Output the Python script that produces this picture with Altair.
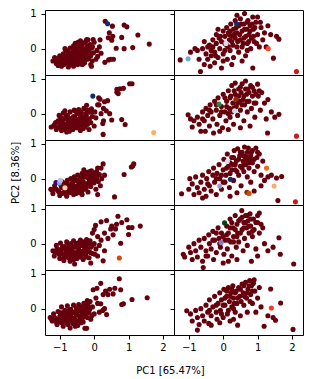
import altair as alt
import pandas as pd

BASE_COLOR = "#67000d"
X_TITLE = "PC1 [65.47%]"
Y_TITLE = "PC2 [8.36%]"
X_TICKS = [-1, 0, 1, 2]
Y_TICKS = [0, 1]

# panel order: row by row, left then right
P1 = [(-1.2,-0.35),(-1.15,-0.25),(-1.1,-0.42),(-1.05,-0.3),(-1.0,-0.2),(-1.0,-0.38),(-0.95,-0.5),(-0.95,-0.28),(-0.9,-0.15),(-0.9,-0.35),(-0.88,-0.45),(-0.85,-0.22),(-0.82,-0.05),(-0.8,-0.3),(-0.8,-0.4),(-0.78,-0.18),(-0.75,-0.52),(-0.75,-0.1),(-0.72,-0.28),(-0.7,-0.35),(-0.7,0.02),(-0.68,-0.2),(-0.65,-0.45),(-0.65,-0.12),(-0.62,-0.3),(-0.6,0.08),(-0.6,-0.05),(-0.58,-0.22),(-0.55,-0.38),(-0.55,0.15),(-0.52,-0.15),(-0.5,0.0),(-0.5,-0.28),(-0.48,-0.45),(-0.45,0.1),(-0.45,-0.08),(-0.42,-0.2),(-0.4,0.22),(-0.4,-0.35),(-0.38,0.05),(-0.35,-0.12),(-0.33,0.15),(-0.3,-0.25),(-0.3,0.0),(-0.28,-0.4),(-0.25,0.2),(-0.25,-0.1),(-0.2,0.08),(-0.2,-0.3),(-0.18,0.25),(-0.15,-0.05),(-0.12,0.12),(-0.1,-0.2),(-0.1,-0.45),(-0.05,0.05),(-0.02,-0.12),(0.0,0.18),(0.05,-0.3),(0.08,-0.05),(-0.85,0.0),(-1.05,-0.48),(-0.6,-0.5),(-0.35,-0.45),
      (-1.12,-0.32),(-1.08,-0.38),(-1.02,-0.26),(-0.97,-0.42),(-0.93,-0.33),(-0.87,-0.28),(-0.84,-0.36),(-0.79,-0.25),(-0.76,-0.34),(-0.73,-0.2),(-0.69,-0.42),(-0.66,-0.28),(-0.63,-0.2),(-0.59,-0.38),(-0.57,-0.12),(-0.53,-0.32),(-0.5,-0.2),(-0.47,-0.35),(-0.44,-0.26),(-0.41,-0.1),(-0.37,-0.3),(-0.34,-0.05),(-0.3,-0.15),(-0.27,-0.32),(-0.23,-0.18),(-0.19,0.0),(-0.16,-0.28),(-0.13,-0.12),(-0.08,0.02),(-0.06,-0.35),
      (0.32,0.78),(0.53,0.64),(0.87,0.67),(0.95,0.62),(1.27,0.39),(1.6,0.13),(1.12,0.03),(0.87,0.0),(0.64,0.01),(0.8,0.32),(0.44,0.45),(0.41,0.31),(0.51,0.24),(0.54,0.35),(0.48,-0.3),(0.56,-0.3),(0.42,-0.32),(0.31,-0.39),(0.2,-0.13),(0.15,0.05),(0.17,0.25),(-0.03,0.26),(-0.22,0.26),(-0.47,0.18),(0.1,-0.22),(-0.08,-0.5),(-0.32,-0.43)]
P2 = [(-1.25,-0.32),(-0.82,0.0),(-0.66,-0.65),(-0.95,-0.1),(-0.75,-0.05),(-0.7,-0.3),(-0.6,0.0),(-0.55,-0.45),(-0.55,0.2),(-0.5,-0.15),(-0.45,0.05),(-0.45,-0.3),(-0.4,0.1),(-0.38,-0.5),(-0.35,-0.2),(-0.3,0.25),(-0.3,0.05),(-0.25,-0.1),(-0.25,-0.4),(-0.2,0.4),(-0.2,0.15),(-0.15,-0.25),(-0.12,0.3),(-0.1,0.0),(-0.05,-0.55),(-0.05,0.2),(0.0,0.5),(0.0,-0.15),(0.05,0.35),(0.1,0.6),(0.1,0.1),(0.12,-0.3),(0.15,0.45),(0.18,0.25),(0.2,-0.05),(0.22,0.7),(0.25,0.35),(0.28,0.1),(0.3,0.55),(0.3,-0.25),(0.35,0.8),(0.35,0.3),(0.4,0.45),(0.4,0.05),(0.45,0.65),(0.45,-0.1),(0.5,0.25),(0.5,0.85),(0.55,0.5),(0.55,0.05),(0.6,0.7),(0.6,0.3),(0.62,1.0),(0.65,-0.2),(0.68,0.55),(0.7,0.15),(0.72,0.8),(0.75,0.4),(0.78,0.65),(0.8,0.0),(0.82,0.3),(0.86,0.9),(0.88,0.55),(0.9,0.2),(0.95,0.75),(1.0,0.9),(1.0,0.4),(1.05,0.05),(1.1,0.6),(1.15,0.25),(1.2,0.45),(1.3,0.65),(1.38,0.4),(1.46,-0.27),(1.55,0.35),(1.62,0.27),(0.86,-0.55),(0.55,-0.35),(0.25,-0.45),(-0.15,0.55),(0.0,-0.35),(0.7,-0.05),(1.25,0.05),(0.4,0.95),
      (0.05,0.15),(0.15,0.05),(0.2,0.5),(0.25,0.2),(0.33,0.42),(0.38,0.6),(0.42,0.2),(0.48,0.4),(0.52,0.7),(0.58,0.15),(0.62,0.55),(0.66,0.35),(0.7,0.75),(0.74,0.2),(0.78,0.5),(0.84,0.7),(0.88,0.35),(0.92,0.6),(0.97,0.15),(1.08,0.75),(-0.35,-0.05),(-0.22,-0.2),(-0.08,0.35),(0.05,-0.05),(0.18,0.4)]
P3 = [(-1.25,-0.38),(-1.15,-0.3),(-1.1,-0.45),(-1.05,-0.2),(-1.0,-0.35),(-0.98,-0.1),(-0.95,-0.48),(-0.92,-0.25),(-0.9,0.02),(-0.88,-0.4),(-0.85,-0.15),(-0.82,-0.3),(-0.8,-0.52),(-0.78,-0.05),(-0.75,-0.22),(-0.72,-0.38),(-0.7,0.05),(-0.68,-0.15),(-0.65,-0.3),(-0.62,-0.45),(-0.6,-0.08),(-0.58,0.1),(-0.55,-0.25),(-0.52,-0.4),(-0.5,0.0),(-0.48,-0.18),(-0.45,0.12),(-0.42,-0.32),(-0.4,-0.05),(-0.38,0.05),(-0.35,-0.22),(-0.32,-0.42),(-0.3,0.15),(-0.28,-0.1),(-0.25,0.0),(-0.22,-0.3),(-0.2,0.1),(-0.18,-0.18),(-0.15,-0.45),(-0.12,0.05),(-0.1,-0.25),(-0.08,0.14),(-0.05,-0.08),(0.0,-0.35),(0.02,0.05),(-0.72,-0.5),(-0.55,0.08),(-1.02,-0.05),(-0.85,0.08),(-0.4,-0.48),
      (-1.18,-0.35),(-1.12,-0.25),(-1.06,-0.4),(-1.0,-0.28),(-0.96,-0.2),(-0.93,-0.38),(-0.89,-0.3),(-0.86,-0.45),(-0.83,-0.1),(-0.79,-0.38),(-0.76,-0.3),(-0.73,-0.15),(-0.7,-0.25),(-0.66,-0.4),(-0.63,-0.2),(-0.6,-0.32),(-0.56,-0.12),(-0.53,-0.3),(-0.49,-0.25),(-0.46,-0.4),(-0.43,-0.15),(-0.39,-0.28),(-0.36,-0.1),(-0.33,-0.3),(-0.29,-0.2),(-0.26,-0.38),(-0.23,-0.05),(-0.19,-0.3),(-0.14,-0.15),(-0.1,0.05),
      (0.66,0.69),(0.75,0.71),(1.03,0.85),(1.1,0.85),(0.85,0.72),(0.66,0.61),(0.7,0.57),(0.39,0.37),(0.3,0.34),(0.17,0.41),(0.13,0.45),(0.14,0.25),(0.1,0.25),(-0.22,0.24),(0.27,0.15),(0.2,0.0),(0.51,-0.18),(0.8,-0.17),(0.9,-0.31),(0.27,-0.2),(0.25,-0.28),(0.26,-0.59),(0.35,0.08),(0.45,0.0),(0.05,-0.12)]
P4 = [(-1.02,-0.03),(-0.95,-0.15),(-0.85,-0.2),(-0.9,-0.38),(-0.75,-0.1),(-0.7,-0.3),(-0.65,-0.5),(-0.6,0.05),(-0.55,-0.2),(-0.52,-0.5),(-0.5,0.15),(-0.45,-0.05),(-0.4,-0.35),(-0.38,0.25),(-0.35,0.05),(-0.3,-0.15),(-0.28,-0.55),(-0.25,0.35),(-0.2,0.1),(-0.18,-0.3),(-0.15,0.45),(-0.1,-0.05),(-0.05,0.2),(-0.02,-0.4),(0.0,0.55),(0.05,0.05),(0.08,-0.2),(0.1,0.35),(0.15,0.65),(0.18,0.15),(0.2,-0.1),(0.22,0.5),(0.25,0.8),(0.28,0.3),(0.3,-0.3),(0.32,0.65),(0.35,0.87),(0.38,0.2),(0.4,0.5),(0.42,-0.05),(0.45,0.7),(0.48,0.35),(0.5,0.1),(0.52,0.6),(0.55,0.85),(0.58,0.4),(0.6,-0.2),(0.62,0.25),(0.65,0.93),(0.68,0.55),(0.7,0.05),(0.72,0.7),(0.75,0.35),(0.8,0.8),(0.82,0.15),(0.85,0.5),(0.9,0.65),(0.92,-0.1),(0.95,0.3),(1.0,0.84),(1.02,0.5),(1.08,0.1),(1.12,0.6),(1.2,0.3),(1.25,-0.15),(1.3,0.4),(1.4,0.05),(1.5,-0.1),(1.62,-0.02),(1.29,-0.55),(0.5,-0.4),(-0.1,-0.5),(0.15,-0.45),(0.78,-0.35),
      (0.1,0.2),(0.2,0.45),(0.3,0.15),(0.35,0.55),(0.42,0.3),(0.5,0.75),(0.55,0.25),(0.6,0.5),(0.65,0.7),(0.7,0.35),(0.75,0.6),(0.85,0.75),(0.9,0.3),(0.95,0.55),(1.05,0.65),(-0.2,0.25),(-0.05,0.05),(0.05,0.45),(0.25,0.05),(0.45,0.5),(-0.4,0.1),(-0.6,-0.15),(0.15,0.0)]
P5 = [(-1.26,-0.3),(-1.2,-0.42),(-1.15,-0.2),(-1.05,-0.35),(-1.0,-0.48),(-0.95,-0.25),(-0.92,-0.1),(-0.9,-0.4),(-0.85,-0.32),(-0.82,-0.15),(-0.8,-0.5),(-0.78,-0.05),(-0.75,-0.28),(-0.72,-0.4),(-0.7,-0.18),(-0.68,0.0),(-0.65,-0.35),(-0.62,-0.1),(-0.6,-0.45),(-0.58,0.05),(-0.55,-0.22),(-0.52,-0.32),(-0.5,-0.05),(-0.48,0.1),(-0.45,-0.15),(-0.42,-0.4),(-0.4,0.02),(-0.38,-0.25),(-0.35,0.15),(-0.32,-0.08),(-0.3,0.25),(-0.28,-0.3),(-0.25,0.05),(-0.22,-0.15),(-0.2,0.18),(-0.18,-0.38),(-0.15,-0.02),(-0.12,0.1),(-0.1,-0.22),(-0.08,0.22),(-0.05,0.0),(0.0,-0.12),(0.02,0.15),(0.05,-0.3),(0.08,0.05),(0.1,0.3),(0.12,-0.08),(0.15,0.12),(0.18,-0.2),(0.2,0.3),(0.26,0.42),(0.22,0.0),(0.1,-0.45),(-0.95,-0.42),(-0.6,-0.25),(-0.35,-0.45),
      (-1.22,-0.32),(-1.1,-0.3),(-1.02,-0.38),(-0.97,-0.18),(-0.88,-0.25),(-0.84,-0.42),(-0.77,-0.2),(-0.74,-0.35),(-0.69,-0.28),(-0.66,-0.15),(-0.63,-0.38),(-0.59,-0.2),(-0.56,-0.05),(-0.53,-0.42),(-0.49,-0.25),(-0.46,-0.05),(-0.43,-0.3),(-0.39,-0.12),(-0.36,-0.35),(-0.33,0.05),(-0.29,-0.18),(-0.26,0.12),(-0.23,-0.25),(-0.19,0.05),(-0.16,-0.12),(-0.13,0.2),(-0.09,-0.08),(-0.04,0.1),(0.03,0.0),(0.07,0.2),
      (1.15,0.42),(1.12,0.36),(1.08,0.33),(0.87,0.12),(0.59,-0.52),(0.3,0.1)]
P6 = [(-1.21,-0.43),(-0.97,0.0),(-1.0,-0.3),(-0.9,-0.15),(-0.85,-0.45),(-0.8,0.05),(-0.75,-0.25),(-0.7,-0.4),(-0.65,-0.1),(-0.6,0.1),(-0.55,-0.3),(-0.5,-0.5),(-0.48,0.0),(-0.42,0.2),(-0.4,-0.2),(-0.35,-0.35),(-0.3,0.1),(-0.28,0.3),(-0.25,-0.1),(-0.2,-0.45),(-0.18,0.15),(-0.12,0.4),(-0.1,0.0),(-0.05,-0.3),(0.0,0.25),(0.02,0.55),(0.05,-0.1),(0.08,0.1),(0.12,0.7),(0.15,0.35),(0.18,-0.25),(0.2,0.15),(0.25,0.6),(0.28,0.4),(0.3,-0.05),(0.32,0.8),(0.35,0.25),(0.38,0.5),(0.42,0.85),(0.45,0.1),(0.48,0.65),(0.5,0.35),(0.52,-0.2),(0.55,0.75),(0.58,0.5),(0.6,0.2),(0.62,0.9),(0.65,0.4),(0.68,0.62),(0.7,0.05),(0.73,0.87),(0.75,0.3),(0.78,0.55),(0.8,-0.1),(0.82,0.75),(0.85,0.45),(0.9,0.2),(0.95,0.87),(0.98,0.6),(1.0,0.35),(1.05,0.7),(1.1,0.1),(1.15,0.5),(1.2,-0.05),(1.3,0.05),(1.4,0.1),(1.55,0.02),(1.7,0.06),(1.59,-0.62),(0.4,-0.4),(0.2,-0.5),(0.9,-0.35),(1.1,-0.2),(-0.6,-0.55),
      (0.1,0.3),(0.2,0.45),(0.3,0.6),(0.35,0.4),(0.45,0.55),(0.5,0.75),(0.55,0.3),(0.6,0.65),(0.65,0.55),(0.7,0.75),(0.75,0.45),(0.8,0.65),(0.85,0.8),(0.9,0.55),(1.0,0.75),(0.4,0.2),(-0.05,0.1),(0.0,-0.1),(0.25,0.25),(-0.2,0.0),(-0.45,-0.15),(0.6,0.4),(0.72,0.5)]
P7 = [(-1.2,-0.2),(-1.16,-0.35),(-1.1,-0.05),(-1.05,-0.25),(-1.0,-0.42),(-0.98,0.02),(-0.95,-0.15),(-0.9,-0.3),(-0.88,-0.48),(-0.85,-0.08),(-0.82,-0.22),(-0.8,0.05),(-0.78,-0.38),(-0.75,-0.12),(-0.72,-0.28),(-0.7,-0.5),(-0.68,0.0),(-0.65,-0.18),(-0.62,-0.35),(-0.6,0.08),(-0.57,-0.58),(-0.55,-0.1),(-0.52,-0.25),(-0.5,-0.42),(-0.48,0.02),(-0.45,-0.15),(-0.42,-0.32),(-0.4,0.1),(-0.38,-0.05),(-0.35,-0.22),(-0.32,-0.45),(-0.3,0.05),(-0.28,-0.12),(-0.25,-0.3),(-0.22,0.12),(-0.2,-0.02),(-0.18,-0.2),(-0.15,-0.4),(-0.12,0.08),(-0.1,-0.1),(-0.05,-0.28),(0.0,0.0),(0.05,-0.15),(0.1,-0.35),(0.26,-0.49),(-0.1,-0.55),(-0.6,-0.45),
      (-1.14,-0.25),(-1.08,-0.15),(-1.02,-0.3),(-0.97,-0.22),(-0.92,-0.08),(-0.87,-0.38),(-0.83,-0.15),(-0.79,-0.28),(-0.76,-0.05),(-0.73,-0.4),(-0.69,-0.2),(-0.66,-0.3),(-0.63,-0.08),(-0.59,-0.25),(-0.56,-0.4),(-0.53,0.0),(-0.49,-0.3),(-0.46,-0.08),(-0.43,-0.22),(-0.39,-0.38),(-0.36,0.0),(-0.33,-0.3),(-0.29,-0.2),(-0.26,-0.05),(-0.23,-0.38),(-0.19,-0.12),(-0.16,0.02),(-0.11,-0.25),(-0.06,-0.05),(0.02,-0.3),
      (0.36,0.66),(0.69,0.78),(0.95,0.68),(1.34,0.5),(1.1,0.46),(1.0,0.46),(1.0,0.26),(0.77,0.01),(0.51,0.5),(0.48,0.42),(0.62,0.42),(0.04,0.52),(0.0,0.4),(-0.05,0.3),(0.1,0.2),(0.2,0.1),(0.3,0.3),(0.4,0.15),(0.55,0.25),(0.8,0.6),(0.2,0.62),(0.65,0.55),(0.3,-0.2),(0.15,-0.05)]
P8 = [(-1.16,-0.3),(-1.12,-0.38),(-1.0,-0.1),(-0.95,-0.25),(-0.9,-0.45),(-0.85,0.0),(-0.8,-0.2),(-0.75,-0.38),(-0.7,0.1),(-0.65,-0.1),(-0.6,-0.5),(-0.58,-0.68),(-0.55,0.15),(-0.5,-0.2),(-0.45,-0.35),(-0.42,0.25),(-0.4,0.0),(-0.35,-0.15),(-0.3,0.35),(-0.28,-0.45),(-0.25,0.1),(-0.2,-0.25),(-0.15,0.45),(-0.12,0.15),(-0.08,-0.1),(-0.05,0.3),(0.0,-0.55),(0.02,-0.3),(0.05,0.1),(0.1,0.5),(0.12,-0.15),(0.15,0.3),(0.2,0.7),(0.22,0.05),(0.25,-0.35),(0.28,0.45),(0.3,0.2),(0.35,0.8),(0.38,-0.1),(0.4,0.55),(0.42,0.3),(0.45,0.05),(0.5,0.7),(0.54,0.94),(0.55,0.4),(0.58,-0.2),(0.6,0.6),(0.62,0.15),(0.65,0.8),(0.68,0.45),(0.7,-0.05),(0.72,0.65),(0.75,0.3),(0.78,0.85),(0.8,0.5),(0.82,-0.5),(0.85,0.2),(0.88,0.7),(0.9,0.4),(0.95,-0.15),(1.0,0.6),(1.05,0.87),(1.05,0.3),(1.1,0.55),(1.15,0.45),(1.2,0.0),(1.3,-0.2),(1.45,-0.1),(1.62,0.17),(1.66,-0.3),(0.4,-0.45),(1.0,-0.35),(0.15,-0.5),(2.05,-0.58),
      (0.1,0.25),(0.2,0.45),(0.25,0.6),(0.35,0.4),(0.45,0.65),(0.5,0.3),(0.55,0.75),(0.6,0.45),(0.65,0.6),(0.7,0.8),(0.75,0.5),(0.8,0.7),(0.85,0.35),(0.95,0.6),(1.0,0.8),(0.3,0.05),(0.0,0.2),(-0.1,0.0),(-0.3,0.1),(0.15,0.1),(0.4,0.2),(-0.5,-0.35),(-0.2,0.3)]
P9 = [(-1.28,-0.25),(-1.22,-0.35),(-1.18,-0.15),(-1.12,-0.3),(-1.08,-0.45),(-1.05,-0.08),(-1.0,-0.22),(-0.98,-0.38),(-0.95,0.05),(-0.92,-0.12),(-0.9,-0.5),(-0.88,-0.3),(-0.85,-0.05),(-0.82,-0.2),(-0.8,-0.4),(-0.78,0.08),(-0.75,-0.15),(-0.72,-0.32),(-0.7,-0.55),(-0.68,-0.02),(-0.65,-0.25),(-0.62,-0.42),(-0.6,0.1),(-0.58,-0.1),(-0.55,-0.3),(-0.52,0.02),(-0.5,-0.18),(-0.48,-0.48),(-0.45,0.12),(-0.42,-0.05),(-0.4,-0.28),(-0.38,0.05),(-0.35,-0.15),(-0.32,-0.38),(-0.3,0.15),(-0.28,-0.08),(-0.27,-0.56),(-0.22,-0.56),(-0.25,0.0),(-0.2,-0.25),(-0.18,0.1),(-0.15,-0.12),(-0.12,0.2),(-0.1,-0.3),(-0.05,0.05),(0.0,-0.15),(-0.2,0.23),(-0.55,-0.5),(-0.95,-0.3),
      (-1.24,-0.3),(-1.15,-0.25),(-1.1,-0.38),(-1.03,-0.3),(-0.99,-0.12),(-0.94,-0.4),(-0.9,-0.22),(-0.86,-0.35),(-0.83,-0.1),(-0.79,-0.28),(-0.76,-0.45),(-0.73,-0.05),(-0.69,-0.2),(-0.66,-0.35),(-0.63,-0.12),(-0.59,-0.28),(-0.56,-0.45),(-0.53,-0.15),(-0.49,-0.35),(-0.46,-0.05),(-0.43,-0.2),(-0.39,-0.4),(-0.36,-0.08),(-0.33,-0.25),(-0.29,0.0),(-0.26,-0.2),(-0.23,0.1),(-0.17,-0.1),(-0.13,-0.02),(-0.07,-0.2),
      (0.73,0.85),(0.19,0.72),(-0.03,0.54),(0.08,0.58),(0.33,0.5),(0.45,0.55),(0.6,0.58),(0.77,0.54),(0.55,0.42),(0.4,0.4),(0.26,0.4),(1.1,0.26),(1.54,0.31),(0.8,0.12),(0.85,0.14),(0.36,-0.17),(0.3,0.0),(0.19,0.14),(0.1,0.15),(0.25,-0.05),(0.15,-0.1),(0.05,0.3)]
P10 = [(-1.06,-0.06),(-0.95,-0.15),(-0.75,-0.61),(-0.9,-0.35),(-0.8,-0.05),(-0.75,-0.25),(-0.7,-0.45),(-0.65,0.0),(-0.6,-0.2),(-0.55,-0.35),(-0.5,0.1),(-0.45,-0.1),(-0.42,-0.42),(-0.4,0.25),(-0.35,-0.47),(-0.35,-0.2),(-0.3,0.05),(-0.25,0.35),(-0.2,-0.1),(-0.18,-0.3),(-0.15,0.15),(-0.1,0.45),(-0.08,-0.05),(-0.05,0.25),(0.0,-0.25),(0.02,0.55),(0.05,0.1),(0.1,0.35),(0.12,-0.15),(0.15,0.6),(0.18,0.2),(0.2,-0.35),(0.22,0.45),(0.25,0.05),(0.28,0.65),(0.3,0.3),(0.35,-0.1),(0.38,0.5),(0.4,0.15),(0.42,-0.47),(0.45,0.6),(0.48,0.35),(0.5,-0.2),(0.55,0.7),(0.58,0.45),(0.6,0.1),(0.65,0.75),(0.68,0.3),(0.7,-0.1),(0.72,0.55),(0.77,0.8),(0.8,0.4),(0.82,0.65),(0.85,0.15),(0.9,0.82),(0.92,0.5),(0.95,-0.1),(1.0,0.3),(1.05,0.6),(1.1,0.05),(1.19,-0.5),(1.3,-0.2),(1.38,0.56),(1.45,-0.25),(1.52,-0.33),(1.67,0.16),(2.03,-0.59),(0.3,-0.3),(-0.1,-0.4),
       (0.05,0.3),(0.1,0.5),(0.2,0.35),(0.25,0.55),(0.32,0.15),(0.35,0.45),(0.42,0.3),(0.5,0.55),(0.52,0.2),(0.6,0.65),(0.62,0.35),(0.7,0.45),(0.75,0.65),(0.78,0.2),(0.85,0.5),(0.88,0.72),(0.0,0.1),(-0.2,0.1),(-0.05,-0.15),(0.15,-0.05),(-0.4,-0.05),(0.3,0.0)]
PANELS = [P1, P2, P3, P4, P5, P6, P7, P8, P9, P10]

# highlighted samples: (panel index, x, y, colour)
SPECIALS = [
    (0, 0.39, 0.71, "#08306b"),
    (1, -1.02, -0.29, "#6baed6"), (1, 2.13, -0.65, "#cb181d"), (1, 1.31, 0.0, "#fb4b2f"),
    (1, 0.39, 0.71, "#08306b"), (1, 0.08, 0.15, "#dadaeb"),
    (2, -0.04, 0.5, "#08306b"), (2, 1.73, -0.54, "#fdae6b"),
    (3, -0.12, 0.27, "#238b45"), (3, 0.37, 0.41, "#8c2d04"), (3, 0.33, 0.08, "#c6dbef"), (3, 2.13, -0.64, "#cb181d"),
    (4, -1.11, -0.11, "#3f007d"), (4, -1.01, -0.12, "#6baed6"), (4, -0.98, -0.05, "#bcbddc"), (4, -0.85, -0.26, "#fdd0a2"),
    (5, 1.26, 0.3, "#f16913"), (5, 1.48, -0.21, "#fdae6b"), (5, 0.21, -0.02, "#08306b"), (5, -0.1, -0.21, "#9e9ac8"),
    (5, 0.69, -0.39, "#7f2704"), (5, 0.75, -0.42, "#d94801"), (5, 0.12, 0.49, "#dadaeb"), (5, 2.1, -0.66, "#cb181d"),
    (6, 0.73, -0.41, "#d94801"),
    (7, 0.04, 0.59, "#00441b"), (7, -0.06, 0.03, "#807dba"),
    (9, 1.4, 0.02, "#ef3b2c"),
]

rows = []
for i, pts in enumerate(PANELS):
    for (x, y) in pts:
        rows.append({"panel": i, "x": x, "y": y, "color": BASE_COLOR})
for (i, x, y, c) in SPECIALS:
    rows.append({"panel": i, "x": x, "y": y, "color": c})
df = pd.DataFrame(rows)

W, H = 129, 65
XDOM = [-1.43, 2.32]
YDOM = [-0.75, 1.1]


def make_panel(i):
    r, c = divmod(i, 2)
    if r == 4:
        xkw = dict(values=X_TICKS, tickSize=4, labelPadding=3, grid=False, domain=False)
        if c == 0:
            xkw.update(titleX=125, titleAlign="center", titlePadding=13)
        xenc = alt.X("x:Q", scale=alt.Scale(domain=XDOM, nice=False, zero=False),
                     axis=alt.Axis(**xkw), title=X_TITLE if c == 0 else None)
    else:
        xenc = alt.X("x:Q", scale=alt.Scale(domain=XDOM, nice=False, zero=False), axis=None)
    ykw = dict(values=Y_TICKS, tickSize=4, labelPadding=5, grid=False, domain=False)
    if c == 1:
        ykw.update(labels=False)
    else:
        ykw.update(titlePadding=9)
    yenc = alt.Y("y:Q", scale=alt.Scale(domain=YDOM, nice=False, zero=False),
                 axis=alt.Axis(**ykw), title=Y_TITLE if (c == 0 and r == 2) else None)
    return (
        alt.Chart(df)
        .transform_filter(alt.datum.panel == i)
        .mark_circle(size=26, opacity=1, clip=True)
        .encode(x=xenc, y=yenc, color=alt.Color("color:N", scale=None))
        .properties(width=W, height=H)
    )


chart = (
    alt.concat(*[make_panel(i) for i in range(10)], columns=2, spacing=0, bounds="flush")
    .properties(padding={"left": 2, "top": 0, "right": 5, "bottom": 0})
    .configure_view(stroke="black", strokeWidth=1)
    .configure_axis(
        labelFont="DejaVu Sans", labelFontSize=10, labelColor="black",
        titleFont="DejaVu Sans", titleFontSize=10, titleFontWeight="normal", titleColor="black",
        tickColor="black", tickWidth=1,
    )
)

chart.save("out.html", embed_options={"renderer": "svg", "actions": False})
